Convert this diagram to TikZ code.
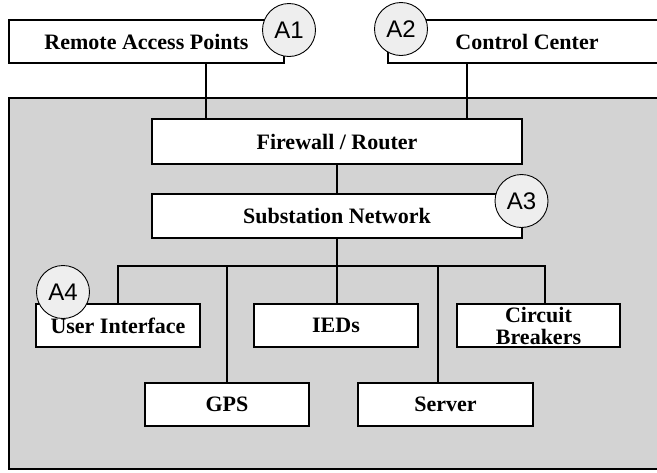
\documentclass[tikz,border=0pt]{standalone}
\usepackage{fontspec}
\setmainfont{Liberation Serif}
\setsansfont{Liberation Sans}
\usetikzlibrary{calc}

\definecolor{panelgray}{HTML}{D3D3D3}
\definecolor{taggray}{HTML}{EEEEEE}

\tikzset{
  box/.style={rectangle,draw,fill=white,line width=1.1pt,minimum height=43pt,
    inner sep=1pt,align=center,font=\fontsize{22}{22}\selectfont\bfseries},
  tag/.style={circle,draw,fill=taggray,line width=0.9pt,minimum size=53pt,
    inner sep=0pt,font=\sffamily\fontsize{24}{24}\selectfont},
  wire/.style={line width=1.1pt}
}

\begin{document}
\begin{tikzpicture}[x=1pt,y=-1pt]
  \useasboundingbox (0,0) rectangle (657,472);
  \begin{scope}
    \clip (0,0) rectangle (657,472);

    % substation area
    \draw[fill=panelgray,line width=1.1pt] (9,98) rectangle (700,469);

    % outside the substation
    \node[box,minimum width=275pt] (remote) at (146.5,41.5) {Remote Access Points};
    \node[box,minimum width=278pt] (control) at (527,41.5) {Control Center};

    % inside
    \node[box,minimum width=370pt,minimum height=45pt] (firewall) at (337,141.5) {Firewall / Router};
    \node[box,minimum width=370pt,minimum height=44pt] (subnet) at (337,216) {Substation Network};

    \node[box,minimum width=164pt] (ui) at (118,325.5) {User Interface};
    \node[box,minimum width=164pt] (ieds) at (336,325.5) {IEDs};
    \node[box,minimum width=163pt,minimum height=43pt,inner sep=0pt] (breakers) at (538.5,325.5) {Circuit\\Breakers};
    \node[box,minimum width=164pt] (gps) at (227,404.5) {GPS};
    \node[box,minimum width=175pt] (server) at (445.5,404.5) {Server};

    % connectors
    \coordinate (busL) at (118,266);
    \coordinate (busR) at (545,266);
    \draw[wire] ([xshift=59.5pt]remote.south) -- ([xshift=59.5pt]remote.south |- firewall.north);
    \draw[wire] ([xshift=-60pt]control.south) -- ([xshift=-60pt]control.south |- firewall.north);
    \draw[wire] (firewall.south) -- (subnet.north);
    \draw[wire] (subnet.south) -- (subnet.south |- ieds.north);
    \draw[wire] (ui.north) -- (ui.north |- busL) -- (busR) -- (busR |- breakers.north);
    \draw[wire] (gps.north) -- (gps.north |- busL);
    \draw[wire] ([xshift=-7.5pt]server.north) -- ([xshift=-7.5pt]server.north |- busL);

    % labels
    \node[tag] (a1) at (289,30) {A1};
    \node[tag] (a2) at (401,29) {A2};
    \node[tag] (a3) at (521.5,201) {A3};
    \node[tag] (a4) at (63,292) {A4};
  \end{scope}
\end{tikzpicture}
\end{document}
